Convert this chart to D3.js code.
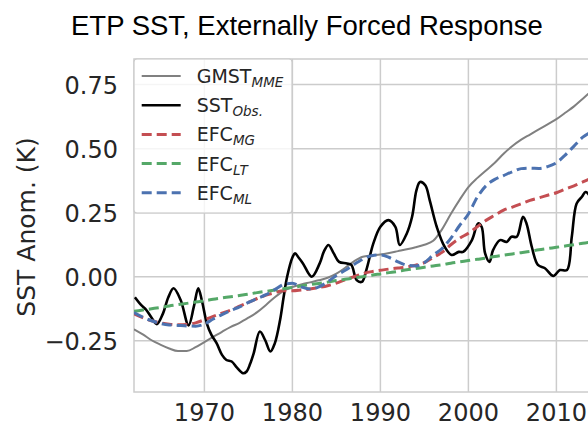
<!DOCTYPE html>
<html><head><meta charset="utf-8">
<script src="https://cdn.jsdelivr.net/npm/d3@7"></script>
<style>body{margin:0;background:#fff} svg{display:block}</style>
</head><body>
<svg id="c" width="588" height="430"></svg>
<script>
const years = [1962,1963,1964,1965,1966,1967,1968,1969,1970,1971,1972,1973,1974,1975,1976,1977,1978,1979,1980,1981,1982,1983,1984,1985,1986,1987,1988,1989,1990,1991,1992,1993,1994,1995,1996,1997,1998,1999,2000,2001,2002,2003,2004,2005,2006,2007,2008,2009,2010,2011,2012,2013,2014];
const gmstMME = [-0.205,-0.225,-0.248,-0.265,-0.28,-0.29,-0.29,-0.275,-0.255,-0.235,-0.215,-0.196,-0.18,-0.16,-0.138,-0.11,-0.08,-0.055,-0.04,-0.03,-0.022,-0.014,-0.004,0.012,0.035,0.06,0.078,0.083,0.087,0.093,0.1,0.107,0.115,0.125,0.14,0.185,0.245,0.3,0.35,0.385,0.415,0.445,0.48,0.51,0.535,0.555,0.575,0.595,0.615,0.64,0.665,0.695,0.725];
const efcMG = [-0.145,-0.16,-0.172,-0.18,-0.185,-0.187,-0.186,-0.18,-0.168,-0.155,-0.142,-0.13,-0.115,-0.1,-0.085,-0.072,-0.062,-0.055,-0.055,-0.052,-0.048,-0.042,-0.035,-0.025,-0.012,0.0,0.012,0.02,0.025,0.03,0.034,0.038,0.045,0.055,0.075,0.095,0.125,0.15,0.17,0.195,0.22,0.24,0.26,0.272,0.285,0.298,0.308,0.318,0.328,0.342,0.355,0.37,0.385];
const efcLT = [-0.135,-0.13,-0.125,-0.12,-0.114,-0.109,-0.104,-0.099,-0.094,-0.088,-0.083,-0.078,-0.073,-0.068,-0.062,-0.057,-0.052,-0.047,-0.042,-0.036,-0.031,-0.026,-0.021,-0.015,-0.01,-0.005,0.0,0.006,0.011,0.016,0.021,0.027,0.032,0.037,0.042,0.047,0.053,0.058,0.063,0.068,0.073,0.079,0.084,0.089,0.094,0.099,0.105,0.11,0.115,0.12,0.125,0.131,0.136];
const efcML = [-0.14,-0.158,-0.172,-0.182,-0.188,-0.19,-0.192,-0.193,-0.185,-0.165,-0.148,-0.132,-0.118,-0.1,-0.085,-0.07,-0.05,-0.03,-0.025,-0.04,-0.048,-0.04,-0.02,0.005,0.025,0.048,0.068,0.082,0.085,0.075,0.058,0.045,0.042,0.055,0.085,0.11,0.15,0.2,0.245,0.31,0.355,0.38,0.395,0.41,0.422,0.424,0.423,0.43,0.445,0.475,0.51,0.545,0.565];
const obsYears = [1962.1,1962.8,1963.4,1964.0,1964.6,1965.3,1965.9,1966.5,1967.3,1968.2,1968.8,1969.3,1969.7,1970.3,1970.8,1971.4,1972.0,1972.5,1973.1,1973.7,1974.4,1974.8,1975.2,1975.6,1976.3,1976.9,1977.5,1978.0,1978.6,1979.0,1979.4,1980.0,1980.3,1980.7,1981.2,1982.2,1983.1,1983.6,1984.1,1984.7,1985.3,1986.2,1986.7,1987.3,1987.9,1988.4,1989.2,1990.0,1990.9,1991.7,1992.2,1993.0,1993.6,1994.1,1994.5,1995.1,1995.6,1996.4,1997.3,1998.1,1998.9,1999.4,2000.4,2001.1,2001.5,2001.9,2002.4,2002.8,2003.6,2004.35,2004.9,2005.5,2006.2,2006.6,2007.2,2007.9,2008.7,2009.65,2010.4,2011.2,2011.75,2012.3,2012.9,2013.3,2013.6,2014.0];
const sstObs = [-0.08,-0.11,-0.13,-0.16,-0.185,-0.143,-0.08,-0.045,-0.091,-0.19,-0.117,-0.045,-0.091,-0.185,-0.227,-0.26,-0.305,-0.325,-0.331,-0.355,-0.377,-0.37,-0.34,-0.299,-0.214,-0.247,-0.292,-0.26,-0.169,-0.08,0.0,0.075,0.091,0.075,0.052,0.0,0.052,0.1,0.124,0.091,0.058,0.052,0.046,-0.013,-0.02,0.026,0.13,0.195,0.221,0.195,0.124,0.169,0.234,0.338,0.37,0.357,0.299,0.195,0.117,0.085,0.097,0.097,0.143,0.208,0.195,0.091,0.058,0.104,0.143,0.136,0.156,0.156,0.234,0.208,0.117,0.046,0.033,0.003,0.026,0.026,0.156,0.286,0.312,0.331,0.325,0.30];
const xTicks = [1970,1980,1990,2000,2010];
const yTicks = [-0.25,0.0,0.25,0.5,0.75];
const seriesNames = [
  {base:"GMST", sub:"MME"},
  {base:"SST", sub:"Obs."},
  {base:"EFC", sub:"MG"},
  {base:"EFC", sub:"LT"},
  {base:"EFC", sub:"ML"}
];

const svg = d3.select("#c");
const L = 134, T = 59, B = 392, R = 591.6;
const x = d3.scaleLinear().domain([1962, 2014]).range([L, R]);
const y = d3.scaleLinear().domain([-0.45, 0.85]).range([B, T]);
const gridC = "#cccccc", txtC = "#262626";

svg.append("defs").append("clipPath").attr("id","clip")
  .append("rect").attr("x",L).attr("y",T).attr("width",R-L).attr("height",B-T);

// grid
const g = svg.append("g");
g.selectAll(".gx").data(xTicks).join("line")
  .attr("x1",d=>x(d)).attr("x2",d=>x(d)).attr("y1",T).attr("y2",B)
  .attr("stroke",gridC).attr("stroke-width",1.5);
g.selectAll(".gy").data(yTicks).join("line")
  .attr("x1",L).attr("x2",R).attr("y1",d=>y(d)).attr("y2",d=>y(d))
  .attr("stroke",gridC).attr("stroke-width",1.5);
// frame
svg.append("rect").attr("x",L).attr("y",T).attr("width",R-L).attr("height",B-T)
  .attr("fill","none").attr("stroke",gridC).attr("stroke-width",1.5);

// tick labels
svg.append("g").selectAll("text").data(yTicks).join("text")
  .attr("x",118).attr("y",d=>y(d)+1).attr("text-anchor","end")
  .attr("dominant-baseline","central")
  .attr("font-family","DejaVu Sans").attr("font-size",24).attr("fill",txtC)
  .text(d=>d3.format(".2f")(d).replace("-","\u2212"));
svg.append("g").selectAll("text").data(xTicks).join("text")
  .attr("x",d=>x(d)).attr("y",421).attr("text-anchor","middle")
  .attr("font-family","DejaVu Sans").attr("font-size",24).attr("fill",txtC)
  .text(d=>d);

// axis label
svg.append("text").attr("transform","translate(35,227) rotate(-90)")
  .attr("text-anchor","middle").attr("font-family","DejaVu Sans")
  .attr("font-size",25).attr("fill",txtC).text("SST Anom. (K)");

// title
svg.append("text").attr("x",71).attr("y",34.5)
  .attr("font-family","Liberation Sans, Arial, sans-serif").attr("font-size",27.5)
  .attr("fill","#000").text("ETP SST, Externally Forced Response");

// lines
const plot = svg.append("g").attr("clip-path","url(#clip)");
const lineY = d3.line().x((d,i)=>x(years[i])).y(d=>y(d)).curve(d3.curveMonotoneX);
const lineObs = d3.line().x((d,i)=>x(obsYears[i])).y(d=>y(d)).curve(d3.curveCatmullRom.alpha(0.5));

const styles = [
  {data:gmstMME, gen:lineY, color:"#808080", w:2, dash:null},
  {data:sstObs, gen:lineObs, color:"#000000", w:2.6, dash:null},
  {data:efcMG, gen:lineY, color:"#c44e52", w:3, dash:"10,5"},
  {data:efcLT, gen:lineY, color:"#55a868", w:3, dash:"10,5"},
  {data:efcML, gen:lineY, color:"#4c72b0", w:3, dash:"10,5"}
];
styles.forEach(s=>{
  plot.append("path").attr("d",s.gen(s.data)).attr("fill","none")
    .attr("stroke",s.color).attr("stroke-width",s.w)
    .attr("stroke-dasharray",s.dash).attr("stroke-linejoin","round");
});

// legend
const lg = svg.append("g");
lg.append("rect").attr("x",L).attr("y",T).attr("width",158).attr("height",154)
  .attr("rx",3).attr("fill","#ffffff").attr("fill-opacity",0.8)
  .attr("stroke",gridC).attr("stroke-width",1.2);
seriesNames.forEach((n,i)=>{
  const cy = 76 + i*29.2;
  const s = styles[i];
  lg.append("line").attr("x1",141.7).attr("x2",180.7).attr("y1",cy).attr("y2",cy)
    .attr("stroke",s.color).attr("stroke-width",s.w).attr("stroke-dasharray",s.dash);
  const t = lg.append("text").attr("x",196.7).attr("y",cy+7)
    .attr("font-family","DejaVu Sans").attr("font-size",19).attr("fill",txtC);
  t.append("tspan").text(n.base);
  t.append("tspan").attr("font-size",13.5).attr("font-style","italic")
    .attr("dy",4).text(n.sub);
});
</script>
</body></html>
